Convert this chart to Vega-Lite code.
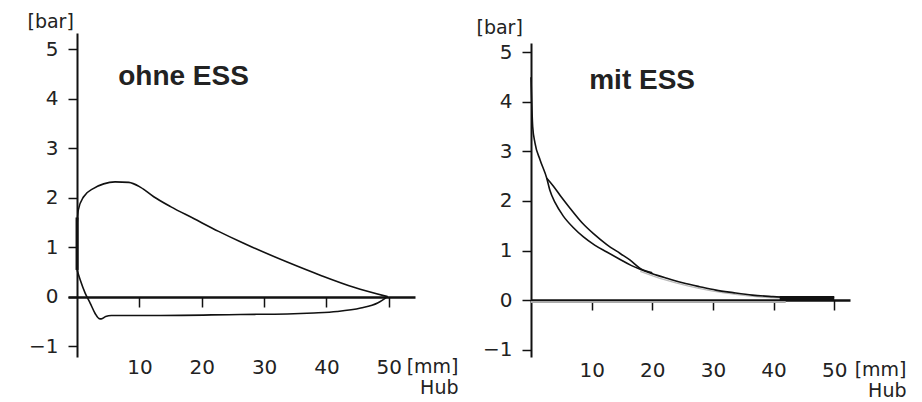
{
  "$schema": "https://vega.github.io/schema/vega-lite/v6.json",
  "padding": {"left": 27, "top": 12, "right": 5, "bottom": 0},
  "background": "white",
  "bounds": "flush",
  "spacing": 116,
  "config": {"view": {"stroke": null}, "font": "DejaVu Sans"},
  "hconcat": [
    {
      "width": 347,
      "height": 324,
      "encoding": {
        "x": {"field": "hub", "type": "quantitative",
          "scale": {"domain": [-1.45, 54.2], "nice": false, "zero": false},
          "axis": {"orient": "bottom", "offset": -60, "values": [10, 20, 30, 40, 50], "grid": false,
            "domainWidth": 2.5, "domainColor": "#111", "tickColor": "#111", "tickWidth": 1.5, "tickSize": 10,
            "labelFontSize": 20, "labelColor": "#222", "labelPadding": 50, "labelFlush": false,
            "title": ["[mm]", "Hub"], "titleFontSize": 19, "titleFontWeight": "normal", "titleColor": "#222",
            "titleAlign": "right", "titleBaseline": "top", "titleX": 390, "titleY": 60, "titleLineHeight": 21}},
        "y": {"field": "p", "type": "quantitative",
          "scale": {"domain": [-1.22, 5.33], "nice": false, "zero": false},
          "axis": {"orient": "left", "offset": -9, "values": [-1, 0, 1, 2, 3, 4, 5], "grid": false,
            "domainWidth": 2, "domainColor": "#111", "tickColor": "#111", "tickWidth": 1.5, "tickSize": 9,
            "labelFontSize": 20, "labelColor": "#222", "labelPadding": 10,
            "title": "[bar]", "titleAngle": 0, "titleAlign": "left", "titleBaseline": "top",
            "titleX": -50, "titleY": -21, "titleFontSize": 19, "titleFontWeight": "normal", "titleColor": "#222"}}
      },
      "layer": [
        {
          "data": {"values": [
            {"series": "u", "hub": 0, "p": 1.45}, {"series": "u", "hub": 0.2, "p": 1.75}, {"series": "u", "hub": 1.06, "p": 2.02},
            {"series": "u", "hub": 2.67, "p": 2.19}, {"series": "u", "hub": 4.27, "p": 2.28}, {"series": "u", "hub": 6.1, "p": 2.32},
            {"series": "u", "hub": 8.3, "p": 2.31}, {"series": "u", "hub": 10.2, "p": 2.21}, {"series": "u", "hub": 12.3, "p": 2.02},
            {"series": "u", "hub": 15.0, "p": 1.82}, {"series": "u", "hub": 18.7, "p": 1.58}, {"series": "u", "hub": 22.7, "p": 1.32},
            {"series": "u", "hub": 26.2, "p": 1.11}, {"series": "u", "hub": 28.3, "p": 0.99}, {"series": "u", "hub": 33.7, "p": 0.70},
            {"series": "u", "hub": 39.1, "p": 0.43}, {"series": "u", "hub": 44.4, "p": 0.19}, {"series": "u", "hub": 49.8, "p": 0},
            {"series": "l", "hub": 0, "p": 0.54}, {"series": "l", "hub": 0.5, "p": 0.34}, {"series": "l", "hub": 1.3, "p": 0.07},
            {"series": "l", "hub": 2.1, "p": -0.13}, {"series": "l", "hub": 2.9, "p": -0.34}, {"series": "l", "hub": 3.5, "p": -0.44},
            {"series": "l", "hub": 3.9, "p": -0.45}, {"series": "l", "hub": 4.6, "p": -0.40}, {"series": "l", "hub": 5.5, "p": -0.38},
            {"series": "l", "hub": 13.4, "p": -0.38}, {"series": "l", "hub": 26.2, "p": -0.36}, {"series": "l", "hub": 33.7, "p": -0.35},
            {"series": "l", "hub": 38, "p": -0.33}, {"series": "l", "hub": 41.7, "p": -0.30}, {"series": "l", "hub": 45.5, "p": -0.23},
            {"series": "l", "hub": 48.2, "p": -0.13}, {"series": "l", "hub": 49.8, "p": 0}
          ]},
          "mark": {"type": "line", "interpolate": "monotone", "stroke": "#111", "strokeWidth": 1.6},
          "encoding": {"detail": {"field": "series"}}
        },
        {
          "data": {"values": [{"hub": 0, "p": 0.54}, {"hub": 0, "p": 1.6}]},
          "mark": {"type": "line", "stroke": "#111", "strokeWidth": 3},
          "encoding": {}
        },
        {
          "data": {"values": [{"hub": 6.6, "p": 4.28, "label": "ohne ESS"}]},
          "mark": {"type": "text", "align": "left", "baseline": "alphabetic", "font": "Liberation Sans", "fontWeight": "bold", "fontSize": 28, "color": "#222"},
          "encoding": {"text": {"field": "label"}}
        }
      ]
    },
    {
      "width": 319,
      "height": 324,
      "encoding": {
        "x": {"field": "hub", "type": "quantitative",
          "scale": {"domain": [0, 52.6], "nice": false, "zero": false},
          "axis": {"orient": "bottom", "offset": -57, "values": [10, 20, 30, 40, 50], "grid": false,
            "domainWidth": 2.5, "domainColor": "#111", "tickColor": "#111", "tickWidth": 1.5, "tickSize": 10,
            "labelFontSize": 20, "labelColor": "#222", "labelPadding": 50, "labelFlush": false,
            "title": ["[mm]", "Hub"], "titleFontSize": 19, "titleFontWeight": "normal", "titleColor": "#222",
            "titleAlign": "right", "titleBaseline": "top", "titleX": 375, "titleY": 60, "titleLineHeight": 21}},
        "y": {"field": "p", "type": "quantitative",
          "scale": {"domain": [-1.15, 5.19], "range": [324, 10], "nice": false, "zero": false},
          "axis": {"orient": "left", "values": [-1, 0, 1, 2, 3, 4, 5], "grid": false,
            "domainWidth": 2, "domainColor": "#111", "tickColor": "#111", "tickWidth": 1.5, "tickSize": 9,
            "labelFontSize": 20, "labelColor": "#222", "labelPadding": 10,
            "title": "[bar]", "titleAngle": 0, "titleAlign": "left", "titleBaseline": "top",
            "titleX": -55, "titleY": -15, "titleFontSize": 19, "titleFontWeight": "normal", "titleColor": "#222"}}
      },
      "layer": [
        {
          "data": {"values": [
            {"hub": 0, "p": -0.04}, {"hub": 42, "p": -0.04}
          ]},
          "mark": {"type": "line", "stroke": "#aaa", "strokeWidth": 2},
          "encoding": {}
        },
        {
          "data": {"values": [
            {"hub": 18, "p": 0.58}, {"hub": 22, "p": 0.41}, {"hub": 26, "p": 0.28}, {"hub": 30, "p": 0.18},
            {"hub": 34, "p": 0.11}, {"hub": 38, "p": 0.06}, {"hub": 41, "p": 0.04}
          ]},
          "mark": {"type": "line", "interpolate": "monotone", "stroke": "#bbb", "strokeWidth": 1.3},
          "encoding": {}
        },
        {
          "data": {"values": [
            {"series": "a", "hub": 0, "p": 4.5}, {"series": "a", "hub": 0.28, "p": 3.5}, {"series": "a", "hub": 0.66, "p": 3.17},
            {"series": "a", "hub": 1.5, "p": 2.83}, {"series": "a", "hub": 2.6, "p": 2.46}, {"series": "a", "hub": 3.1, "p": 2.22},
            {"series": "a", "hub": 4, "p": 1.96}, {"series": "a", "hub": 5.3, "p": 1.70}, {"series": "a", "hub": 7, "p": 1.46},
            {"series": "a", "hub": 8.6, "p": 1.28}, {"series": "a", "hub": 10.5, "p": 1.11}, {"series": "a", "hub": 12.5, "p": 0.97},
            {"series": "a", "hub": 14.7, "p": 0.82}, {"series": "a", "hub": 16.5, "p": 0.70}, {"series": "a", "hub": 18, "p": 0.62},
            {"series": "a", "hub": 20, "p": 0.53}, {"series": "a", "hub": 22.4, "p": 0.44}, {"series": "a", "hub": 25, "p": 0.35},
            {"series": "a", "hub": 27.8, "p": 0.27}, {"series": "a", "hub": 30.5, "p": 0.20}, {"series": "a", "hub": 33.3, "p": 0.15},
            {"series": "a", "hub": 36.5, "p": 0.10}, {"series": "a", "hub": 39.9, "p": 0.07}, {"series": "a", "hub": 42, "p": 0.055},
            {"series": "a", "hub": 50, "p": 0.05},
            {"series": "b", "hub": 2.6, "p": 2.46}, {"series": "b", "hub": 3.7, "p": 2.30}, {"series": "b", "hub": 5, "p": 2.08},
            {"series": "b", "hub": 6.4, "p": 1.86}, {"series": "b", "hub": 8.5, "p": 1.55}, {"series": "b", "hub": 10.3, "p": 1.34},
            {"series": "b", "hub": 12.5, "p": 1.12}, {"series": "b", "hub": 14.7, "p": 0.94}, {"series": "b", "hub": 16.3, "p": 0.81},
            {"series": "b", "hub": 18, "p": 0.64}, {"series": "b", "hub": 20, "p": 0.55}
          ]},
          "mark": {"type": "line", "interpolate": "monotone", "stroke": "#111", "strokeWidth": 1.6},
          "encoding": {"detail": {"field": "series"}}
        },
        {
          "data": {"values": [{"hub": 41, "p": 0.04}, {"hub": 50, "p": 0.04}]},
          "mark": {"type": "line", "stroke": "#111", "strokeWidth": 4},
          "encoding": {}
        },
        {
          "data": {"values": [{"hub": 9.6, "p": 4.26, "label": "mit ESS"}]},
          "mark": {"type": "text", "align": "left", "baseline": "alphabetic", "font": "Liberation Sans", "fontWeight": "bold", "fontSize": 28, "color": "#222"},
          "encoding": {"text": {"field": "label"}}
        }
      ]
    }
  ]
}
